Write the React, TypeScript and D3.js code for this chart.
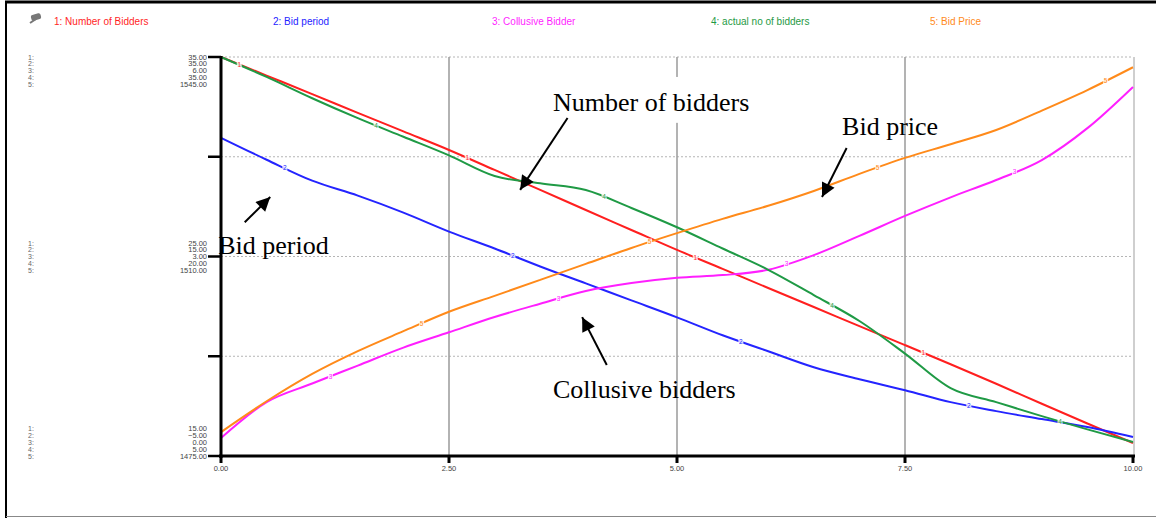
import * as d3 from 'd3'
import React from 'react'

// time axis (0 .. 10 in steps of 0.5)
const times = d3.range(0, 10.01, 0.5)

const numberOfBidders = [35, 34.07, 33.14, 32.2, 31.27, 30.34, 29.34, 28.34, 27.33, 26.33, 25.33, 24.38, 23.42, 22.47, 21.51, 20.56, 19.6, 18.62, 17.62, 16.63, 15.65]
const bidPeriod = [26.9, 24.7, 22.6, 21.1, 19.4, 17.5, 15.8, 14.0, 12.3, 10.6, 8.9, 7.1, 5.5, 3.9, 2.7, 1.6, 0.4, -0.5, -1.3, -2.1, -3.1]
const collusiveBidder = [0.27, 0.81, 1.09, 1.36, 1.63, 1.86, 2.09, 2.29, 2.48, 2.6, 2.68, 2.72, 2.8, 3.02, 3.31, 3.61, 3.89, 4.15, 4.45, 4.93, 5.55]
const actualBidders = [35, 33.5, 31.9, 30.4, 29.0, 27.6, 26.05, 25.5, 25.0, 23.65, 22.2, 20.6, 19.0, 17.1, 15.15, 12.7, 10.1, 9.05, 8.0, 7.0, 6.05]
const bidPrice = [1479.2, 1484.6, 1489.4, 1493.4, 1496.9, 1500.3, 1503.1, 1505.9, 1508.7, 1511.5, 1514.1, 1516.6, 1518.9, 1521.5, 1524.5, 1527.3, 1529.7, 1532.2, 1535.6, 1539.2, 1543.2]

const seriesNames = ['1: Number of Bidders', '2: Bid period', '3: Collusive Bidder', '4: actual no of bidders', '5: Bid Price']
const seriesColors = ['#ff1f1f', '#2424ff', '#ff1fff', '#1f9a45', '#ff8a1a']
const seriesValues = [numberOfBidders, bidPeriod, collusiveBidder, actualBidders, bidPrice]
// [bottom, top] of each series' own scale
const seriesDomains: [number, number][] = [[15, 35], [-5, 35], [0, 6], [5, 35], [1475, 1545]]

const xTicks = [0, 2.5, 5, 7.5, 10]
const yTickFracs = [0, 0.25, 0.5, 0.75, 1]

// annotations: x in time units, y in percent of the plot height
const annotations = [
  { text: 'Number of bidders', x: 3.64, y: 86.5, from: [3.8, 84.7], to: [3.28, 66.7], box: [3.42, 6.35, 95, 83.5] },
  { text: 'Bid price', x: 6.81, y: 80.5, from: [6.86, 77.2], to: [6.59, 64.9] },
  { text: 'Bid period', x: -0.03, y: 50.6, from: [0.26, 58.6], to: [0.54, 64.9] },
  { text: 'Collusive bidders', x: 3.64, y: 14.5, from: [4.23, 22.8], to: [3.96, 34.8] }
]

const W = 1156
const H = 518
const left = 221
const right = 1133
const top = 57
const bottom = 456

export default function App() {
  const x = d3.scaleLinear().domain([0, 10]).range([left, right])
  const pct = d3.scaleLinear().domain([0, 100]).range([bottom, top])
  const yScales = seriesDomains.map(d => d3.scaleLinear().domain(d).range([bottom, top]))
  const fmt = d3.format('.2f')

  const valueAt = (vals: number[], t: number) => {
    const i = Math.min(Math.floor(t / 0.5), vals.length - 2)
    const f = (t - times[i]) / 0.5
    return vals[i] + (vals[i + 1] - vals[i]) * f
  }

  const groupOffset = [0, 2, 4] // which label row sits on the tick
  const rowGap = 6.8

  return (
    <svg width={W} height={H} style={{ position: 'absolute', left: 0, top: 0, background: '#fff' }}>
      <defs>
        <marker id="head" viewBox="0 0 10 10" refX="10" refY="5" markerWidth="16" markerHeight="14" markerUnits="userSpaceOnUse" orient="auto">
          <path d="M0,0 L10,5 L0,10 z" fill="#000" />
        </marker>
      </defs>

      {/* frame */}
      <line x1={5} x2={W} y1={2} y2={2} stroke="#000" strokeWidth={3} />
      <line x1={6} x2={6} y1={1} y2={H} stroke="#000" strokeWidth={2} />
      <line x1={6} x2={W} y1={516.5} y2={516.5} stroke="#888" strokeWidth={1} />

      {/* legend */}
      <g transform="translate(28,14)">
        <rect x={3} y={0} width={10} height={6} rx={2} fill="#777" transform="rotate(-15 8 3)" />
        <line x1={2} y1={9} x2={8} y2={5} stroke="#777" strokeWidth={2} />
      </g>
      {seriesNames.map((name, i) => (
        <text key={name} x={54 + 219 * i} y={25} fontSize={10} fontFamily="Liberation Sans, Arial, sans-serif" fill={seriesColors[i]}>
          {name}
        </text>
      ))}

      {/* grid */}
      {yTickFracs.map(f => (
        <line key={'h' + f} x1={left} x2={right} y1={bottom - f * (bottom - top)} y2={bottom - f * (bottom - top)} stroke="#b5b5b5" strokeWidth={1} strokeDasharray="2 2" />
      ))}
      {xTicks.slice(1, 4).map(t => (
        <line key={'v' + t} x1={x(t)} x2={x(t)} y1={top} y2={bottom} stroke="#9a9a9a" strokeWidth={1.5} />
      ))}
      <line x1={right + 1} x2={right + 1} y1={top} y2={bottom} stroke="#cfcfcf" strokeWidth={2} />

      {/* white box behind the "Number of bidders" label */}
      {annotations.filter(a => a.box).map(a => (
        <rect key={'box' + a.text} x={x(a.box![0])} y={pct(a.box![2])} width={x(a.box![1]) - x(a.box![0])} height={pct(a.box![3]) - pct(a.box![2])} fill="#fff" />
      ))}

      {/* series */}
      {seriesValues.map((vals, i) => {
        const line = d3.line<number>()
          .x((_, j) => x(times[j]))
          .y(v => yScales[i](v))
          .curve(d3.curveMonotoneX)
        return <path key={'s' + i} d={line(vals) || ''} fill="none" stroke={seriesColors[i]} strokeWidth={2} />
      })}

      {/* series number markers */}
      {seriesValues.map((vals, i) =>
        [0, 1, 2, 3].map(k => {
          const t = 0.2 + 0.5 * i + 2.5 * k
          const px = x(t)
          const py = yScales[i](valueAt(vals, t))
          return (
            <g key={'m' + i + k}>
              <rect x={px - 2.5} y={py - 3.5} width={5} height={7} fill="#fff" opacity={0.8} />
              <text x={px} y={py + 2.3} fontSize={6.5} textAnchor="middle" fontFamily="Liberation Sans, Arial, sans-serif" fill={seriesColors[i]}>
                {i + 1}
              </text>
            </g>
          )
        })
      )}

      {/* axes */}
      <line x1={left} x2={left} y1={top - 1} y2={bottom + 2} stroke="#000" strokeWidth={3} />
      <line x1={left - 2} x2={right + 2} y1={bottom} y2={bottom} stroke="#000" strokeWidth={3} />
      {yTickFracs.map(f => (
        <line key={'yt' + f} x1={left - 13} x2={left} y1={bottom - f * (bottom - top)} y2={bottom - f * (bottom - top)} stroke="#000" strokeWidth={2.5} />
      ))}
      {xTicks.map(t => (
        <g key={'xt' + t}>
          <line x1={x(t)} x2={x(t)} y1={bottom} y2={bottom + 7} stroke="#000" strokeWidth={3} />
          <text x={x(t)} y={bottom + 14.5} fontSize={7.5} textAnchor="middle" fontFamily="Liberation Sans, Arial, sans-serif" fill="#444">
            {fmt(t)}
          </text>
        </g>
      ))}

      {/* stacked y labels: top, middle, bottom */}
      {[1, 0.5, 0].map((f, g) => {
        const tickY = bottom - f * (bottom - top)
        return seriesDomains.map((d, i) => {
          const rowY = tickY + (i - groupOffset[g]) * rowGap
          const v = d[0] + (d[1] - d[0]) * f
          return (
            <g key={'yl' + g + i}>
              <text x={207} y={rowY + 2.6} fontSize={7.5} textAnchor="end" fontFamily="Liberation Sans, Arial, sans-serif" fill="#444">
                {fmt(v)}
              </text>
              <text x={28} y={rowY + 2.6} fontSize={7} fontFamily="Liberation Sans, Arial, sans-serif" fill="#666">
                {i + 1}:
              </text>
            </g>
          )
        })
      })}

      {/* annotations */}
      {annotations.map(a => (
        <g key={a.text}>
          <text x={x(a.x)} y={pct(a.y)} fontSize={26} fontFamily="Liberation Serif, Times New Roman, serif" fill="#000">
            {a.text}
          </text>
          <line x1={x(a.from[0])} y1={pct(a.from[1])} x2={x(a.to[0])} y2={pct(a.to[1])} stroke="#000" strokeWidth={2} markerEnd="url(#head)" />
        </g>
      ))}
    </svg>
  )
}
